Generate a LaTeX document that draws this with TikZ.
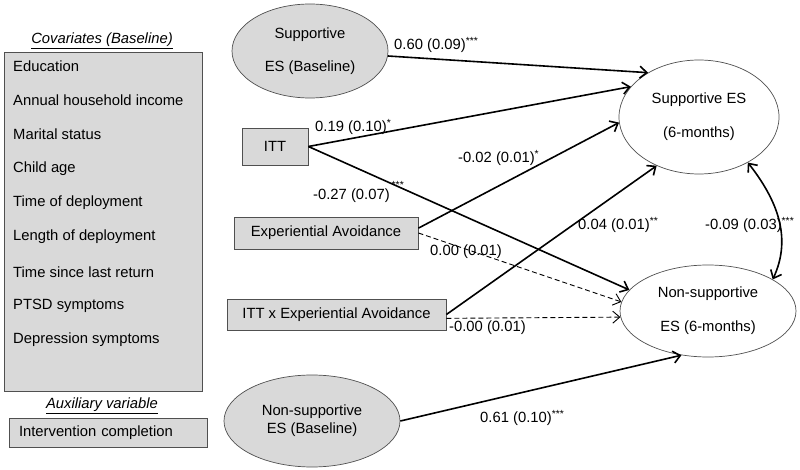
\documentclass[tikz,border=0pt]{standalone}
\usepackage{fontspec}
\setmainfont{Liberation Sans}
\usepackage{tikz}
\usetikzlibrary{shapes.geometric,arrows.meta}

\definecolor{boxgray}{RGB}{217,217,217}
\definecolor{edgegray}{RGB}{80,80,80}

\tikzset{
	obsbox/.style = {draw = edgegray, fill = boxgray, line width = .8pt, inner sep = 0pt},
	latent/.style = {ellipse, draw = edgegray, line width = .7pt, inner sep = 0pt, align = center},
	item/.style = {anchor = west, inner sep = 0pt},
	coef/.style = {anchor = west, inner sep = 0pt},
	effect/.style = {line width = 1.6pt, -{Straight Barb[length = 7pt, width = 12pt]}},
	nseffect/.style = {line width = .9pt, dash pattern = on 5pt off 3pt, -{Straight Barb[length = 7pt, width = 12pt]}},
}

\begin{document}
\begin{tikzpicture}[x = 1pt, y = 1pt, font = \fontsize{14.8}{17.8}\selectfont]
	\useasboundingbox (0,0) rectangle (800,-470);

	% covariates
	\node (covtitle) at (102,-41) {\textit{\underline{Covariates (Baseline)}}};
	\node[obsbox, minimum width = 198pt, minimum height = 339pt] (covbox) at (103,-221.5) {};
	\node[item] (educ) at (13,-66) {Education};
	\node[item] (income) at (13,-100) {Annual household income};
	\node[item] (marital) at (13,-134) {Marital status};
	\node[item] (childage) at (13,-169) {Child age};
	\node[item] (deptime) at (13,-203) {Time of deployment};
	\node[item] (deplength) at (13,-237) {Length of deployment};
	\node[item] (sincereturn) at (13,-272) {Time since last return};
	\node[item] (ptsd) at (13,-306) {PTSD symptoms};
	\node[item] (depress) at (13,-340) {Depression symptoms};

	% auxiliary
	\node (auxtitle) at (102,-406) {\textit{\underline{Auxiliary variable}}};
	\node[obsbox, minimum width = 198pt, minimum height = 29pt, text width = 178pt, align = left] (interv) at (108,-432.5) {Intervention completion};

	% predictors
	\node[latent, fill = boxgray, minimum width = 156pt, minimum height = 94pt] (supbase) at (310,-51) {Supportive\\[15pt]ES (Baseline)};
	\node[obsbox, minimum width = 66pt, minimum height = 37pt] (itt) at (275,-146.5) {ITT};
	\node[obsbox, minimum width = 184pt, minimum height = 32pt] (expav) at (326,-233) {Experiential Avoidance};
	\node[obsbox, minimum width = 219pt, minimum height = 31pt] (ittxea) at (336.5,-314.5) {ITT x Experiential Avoidance};
	\node[latent, fill = boxgray, minimum width = 176pt, minimum height = 92pt] (nonbase) at (312,-421) {Non-supportive\\ES (Baseline)};

	% outcomes
	\node[latent, fill = white, minimum width = 160pt, minimum height = 114pt] (supes) at (699,-117) {Supportive ES\\[16pt](6-months)};
	\node[latent, fill = white, minimum width = 176pt, minimum height = 92pt] (nones) at (708,-311) {Non-supportive\\[16pt]ES (6-months)};

	% paths
	\draw[effect] (supbase) -- (supes.139);
	\draw[effect] (itt.east) -- (supes.156);
	\draw[effect] (itt.east) -- (nones.165);
	\draw[effect] (expav.3) -- (supes.184);
	\draw[effect] (ittxea.east) -- (supes.229);
	\draw[nseffect] (expav.east) -- (nones.174);
	\draw[nseffect] (ittxea.-2) -- (nones.184);
	\draw[effect] (nonbase.east) -- (nones.239);
	\draw[effect, {Straight Barb[length = 7pt, width = 12pt]}-{Straight Barb[length = 7pt, width = 12pt]}] (supes.-43) to[out = -52, in = 65] (nones.26);

	% coefficients
	\node[coef] (c60) at (394,-45) {0.60 (0.09)\textsuperscript{***}};
	\node[coef] (c19) at (315,-127) {0.19 (0.10)\textsuperscript{*}};
	\node[coef] (c27) at (313,-192) {-0.27 (0.07)\textsuperscript{\hspace{2pt}\raisebox{6pt}{***}}};
	\node[coef] (c02) at (458,-158) {-0.02 (0.01)\textsuperscript{*}};
	\node[coef] (c04) at (578,-225) {0.04 (0.01)\textsuperscript{**}};
	\node[coef] (c09) at (705,-225) {-0.09 (0.03)\textsuperscript{***}};
	\node[coef] (c00) at (430,-252) {0.00 (0.01)};
	\node[coef] (cm00) at (449,-328) {-0.00 (0.01)};
	\node[coef] (c61) at (480,-418) {0.61 (0.10)\textsuperscript{***}};
\end{tikzpicture}
\end{document}
